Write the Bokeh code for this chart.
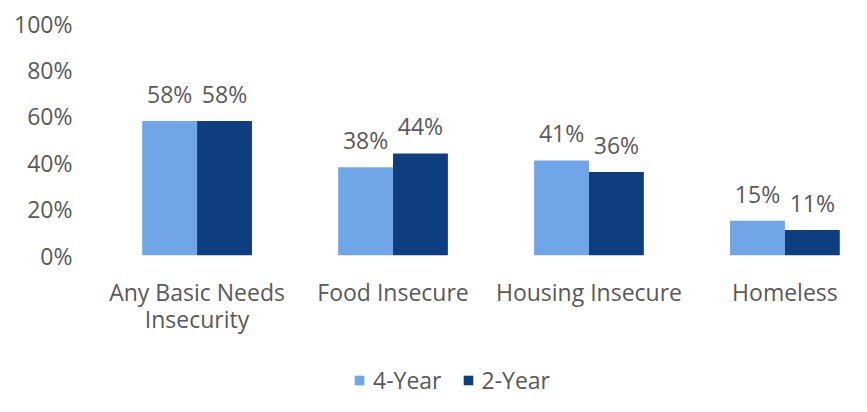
from bokeh.plotting import figure
from bokeh.layouts import column
from bokeh.models import (ColumnDataSource, FactorRange, Range1d, FixedTicker,
                          NumeralTickFormatter, LabelSet, Legend, LegendItem)
from bokeh.core.properties import value
from bokeh.transform import dodge
from bokeh.embed import file_html
from bokeh.resources import INLINE

# ---- data ----
categories = ["Any Basic Needs\nInsecurity", "Food Insecure", "Housing Insecure", "Homeless"]
four_year = [0.58, 0.38, 0.41, 0.15]
two_year = [0.58, 0.44, 0.36, 0.11]
y_ticks = [0.0, 0.2, 0.4, 0.6, 0.8, 1.0]
series_names = ["4-Year", "2-Year"]

# ---- style ----
LIGHT = "#70A6E8"
DARK = "#0F3E80"
TEXT = "#595959"
FONT = "Open Sans"
FS = "23px"
W = 860

src = ColumnDataSource(dict(
    cat=categories,
    four=four_year,
    two=two_year,
    four_lbl=[f"{round(v * 100)}%" for v in four_year],
    two_lbl=[f"{round(v * 100)}%" for v in two_year],
))

xr = FactorRange(factors=categories, range_padding=-0.15, range_padding_units="absolute")

p = figure(
    x_range=xr, y_range=Range1d(0, 1),
    width=W, height=345,
    output_backend="svg", toolbar_location=None,
    min_border_left=128, min_border_right=7, min_border_top=23, min_border_bottom=90,
    background_fill_color="white", border_fill_color="white",
)
p.outline_line_color = None
p.xgrid.visible = False
p.ygrid.visible = False

p.vbar(x=dodge("cat", -0.14, range=xr), top="four", width=0.28, source=src,
       fill_color=LIGHT, line_color=None)
p.vbar(x=dodge("cat", 0.14, range=xr), top="two", width=0.28, source=src,
       fill_color=DARK, line_color=None)

for lbl_col, top_col, off in (("four_lbl", "four", -0.14), ("two_lbl", "two", 0.14)):
    p.add_layout(LabelSet(x=dodge("cat", off, range=xr), y=top_col, text=lbl_col,
                          source=src, text_align="center", text_baseline="alphabetic",
                          y_offset=18, text_font=value(FONT), text_font_size=value(FS),
                          text_color=TEXT))

# axes
p.yaxis.ticker = FixedTicker(ticks=y_ticks)
p.yaxis.formatter = NumeralTickFormatter(format="0%")
for ax in (p.xaxis, p.yaxis):
    ax.axis_line_color = None
    ax.major_tick_line_color = None
    ax.minor_tick_line_color = None
    ax.major_tick_out = 0
    ax.major_tick_in = 0
    ax.major_label_text_font = FONT
    ax.major_label_text_font_size = FS
    ax.major_label_text_color = TEXT
p.yaxis.major_label_standoff = 56
p.xaxis.major_label_standoff = 20
p.xaxis.major_label_text_line_height = 0.85
p.xaxis.major_label_orientation = "horizontal"

# ---- legend strip (separate figure so the legend is not clipped by the plot frame) ----
# same series drawn into a y-range they never reach, so only the legend shows
lg = figure(width=W, height=60, x_range=xr, y_range=Range1d(5, 6),
            output_backend="svg", toolbar_location=None,
            min_border_left=128, min_border_right=7, min_border_top=0, min_border_bottom=0,
            background_fill_color="white", border_fill_color="white")
lg.outline_line_color = None
lg.axis.visible = False
lg.grid.visible = False
k4 = lg.vbar(x=dodge("cat", -0.14, range=xr), top="four", width=0.28, source=src,
             fill_color=LIGHT, line_color=None)
k2 = lg.vbar(x=dodge("cat", 0.14, range=xr), top="two", width=0.28, source=src,
             fill_color=DARK, line_color=None)
legend = Legend(
    items=[LegendItem(label=series_names[0], renderers=[k4]),
           LegendItem(label=series_names[1], renderers=[k2])],
    location=(225, 9), orientation="horizontal",
    glyph_width=12, glyph_height=12, label_standoff=8, spacing=20,
    padding=0, margin=0, border_line_color=None, background_fill_alpha=0,
    label_text_font=FONT, label_text_font_size=FS, label_text_color=TEXT,
)
lg.add_layout(legend, "center")

layout = column(p, lg, spacing=0)
open("out.html", "w").write(file_html(layout, INLINE))
